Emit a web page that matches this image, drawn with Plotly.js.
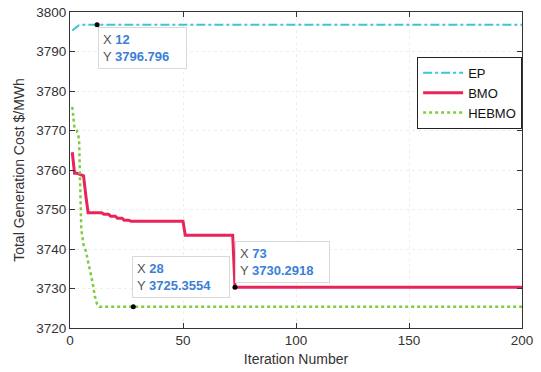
<!DOCTYPE html>
<html>
<head>
<meta charset="utf-8">
<script src="https://cdn.plot.ly/plotly-3.0.1.min.js"></script>
<style>html,body{margin:0;padding:0;background:#fff;}#chart{width:541px;height:372px;}</style>
</head>
<body>
<div id="chart"></div>
<script>
// Breakpoints of each convergence curve (iteration, cost)
const epIter   = [1, 2, 3, 4, 5, 6, 12, 200];
const epCost   = [3795.3, 3795.8, 3796.3, 3796.65, 3796.78, 3796.796, 3796.796, 3796.796];

const bmoIter  = [1, 2, 3, 4, 5, 6, 7, 8, 14, 15, 17, 18, 20, 21, 23, 24, 26, 27, 50, 51, 72, 73, 200];
const bmoCost  = [3764.5, 3759.2, 3759.2, 3759.0, 3758.6, 3758.5, 3753.5, 3749.2, 3749.2, 3748.8, 3748.8, 3748.3, 3748.3, 3747.8, 3747.8, 3747.3, 3747.3, 3747.0, 3747.0, 3743.5, 3743.5, 3730.2918, 3730.2918];

const hebmoIter = [1, 2, 3, 4, 5, 6, 7, 8, 9, 10, 11, 12, 13, 28, 200];
const hebmoCost = [3776.0, 3770.5, 3770.0, 3768.0, 3745.0, 3741.0, 3739.5, 3737.0, 3734.5, 3731.5, 3728.0, 3726.0, 3725.3554, 3725.3554, 3725.3554];

// Data tips
const tipIter  = [12, 28, 73];
const tipCost  = [3796.796, 3725.3554, 3730.2918];
const tipLabel = ['3796.796', '3725.3554', '3730.2918'];

const seriesNames = ['EP', 'BMO', 'HEBMO'];

const xTicks = [0, 50, 100, 150, 200];
const yTicks = [3720, 3730, 3740, 3750, 3760, 3770, 3780, 3790, 3800];

const FONT = 'Liberation Sans, Arial, sans-serif';

const traces = [
  {x: epIter, y: epCost, name: seriesNames[0], mode: 'lines',
   line: {color: '#3fc4d8', width: 2, dash: 'dashdot'}},
  {x: bmoIter, y: bmoCost, name: seriesNames[1], mode: 'lines',
   line: {color: '#e8245a', width: 3}},
  {x: hebmoIter, y: hebmoCost, name: seriesNames[2], mode: 'lines',
   line: {color: '#7fcb3f', width: 2.5, dash: 'dot'}},
  {x: tipIter, y: tipCost, mode: 'markers', showlegend: false, hoverinfo: 'skip',
   marker: {color: '#000', size: 5}}
];

function tipText(i) {
  return '<span style="color:#555">X </span><b><span style="color:#3b7fd6">' + tipIter[i] +
         '</span></b><br><span style="color:#555">Y </span><b><span style="color:#3b7fd6">' +
         tipLabel[i] + '</span></b>';
}

const tipPlacement = [
  {xanchor: 'left', yanchor: 'top', xshift: 1, yshift: -2, width: 79},
  {xanchor: 'left', yanchor: 'bottom', xshift: -1, yshift: 9, width: 88},
  {xanchor: 'left', yanchor: 'bottom', xshift: 0, yshift: 4, width: 85}
];

const annotations = tipIter.map((t, i) => Object.assign({
  x: t, y: tipCost[i], xref: 'x', yref: 'y', showarrow: false,
  text: tipText(i), align: 'left', height: 32,
  bgcolor: '#ffffff', bordercolor: '#d9d9d9', borderwidth: 1, borderpad: 4,
  font: {family: FONT, size: 13, color: '#333'}
}, tipPlacement[i]));

const layout = {
  width: 541, height: 372,
  margin: {l: 70, r: 19, t: 12, b: 44},
  paper_bgcolor: '#ffffff', plot_bgcolor: '#ffffff',
  font: {family: FONT, size: 13, color: '#333'},
  showlegend: true,
  legend: {x: 0.768, y: 0.858, xanchor: 'left', yanchor: 'top',
           bgcolor: '#ffffff', bordercolor: '#222', borderwidth: 1,
           font: {family: FONT, size: 13, color: '#111'},
           tracegroupgap: 0, itemwidth: 40},
  xaxis: {range: [0, 200], tickvals: xTicks, ticktext: xTicks.map(String),
          showline: true, linecolor: '#333', linewidth: 1, mirror: 'ticks',
          ticks: 'inside', ticklen: 5, tickcolor: '#333',
          showgrid: true, gridcolor: '#eeeeee', griddash: 'dot', zeroline: false,
          tickfont: {family: FONT, size: 13.5, color: '#333'},
          title: {text: 'Iteration Number', font: {family: FONT, size: 14, color: '#333'}, standoff: 6}},
  yaxis: {range: [3720, 3800], tickvals: yTicks, ticktext: yTicks.map(String),
          showline: true, linecolor: '#333', linewidth: 1, mirror: 'ticks',
          ticks: 'inside', ticklen: 5, tickcolor: '#333',
          showgrid: true, gridcolor: '#eeeeee', griddash: 'dot', zeroline: false,
          tickfont: {family: FONT, size: 13.5, color: '#333'},
          title: {text: 'Total Generation Cost $/MWh', font: {family: FONT, size: 14, color: '#333'}, standoff: 8}},
  annotations: annotations
};

Plotly.newPlot('chart', traces, layout, {displayModeBar: false, staticPlot: true});
</script>
</body>
</html>
